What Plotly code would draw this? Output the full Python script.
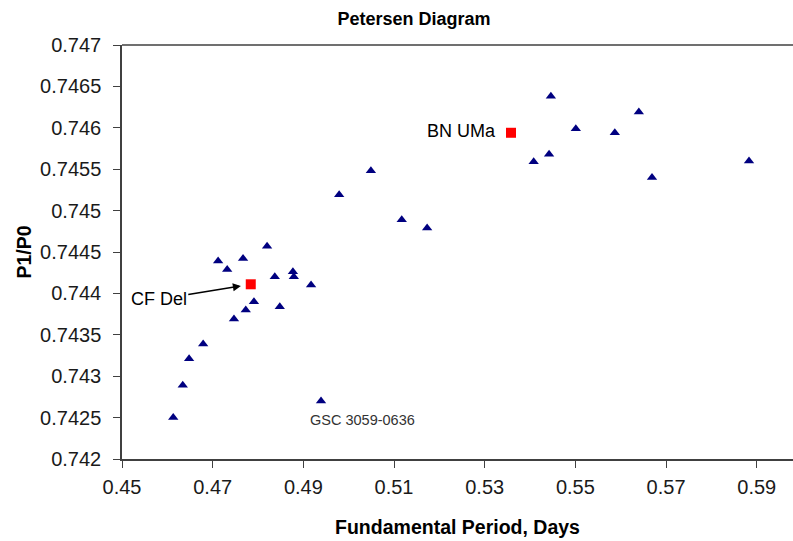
import plotly.graph_objects as go

# Fundamental period (days) and period ratio P1/P0 for the comparison stars
period = [0.4613, 0.4634, 0.4648, 0.4679, 0.4712, 0.4732, 0.4767, 0.4747, 0.4773,
          0.4791, 0.4820, 0.4837, 0.4877, 0.4879, 0.4848, 0.4917, 0.4939, 0.4979,
          0.5049, 0.5117, 0.5173, 0.5408, 0.5442, 0.5446, 0.5501, 0.5587, 0.5640,
          0.5669, 0.5883]
ratio = [0.74250, 0.74289, 0.74321, 0.74339, 0.74439, 0.74429, 0.74442, 0.74369, 0.74380,
         0.74390, 0.74457, 0.74420, 0.74426, 0.74420, 0.74384, 0.74410, 0.74270, 0.74519,
         0.74548, 0.74489, 0.74479, 0.74559, 0.74568, 0.74638, 0.74599, 0.74594, 0.74619,
         0.74540, 0.74560]

# Highlighted stars
star_names = ["CF Del", "BN UMa"]
star_period = [0.4784, 0.5358]
star_ratio = [0.74411, 0.74594]

# Labelled outlier
outlier_name = "GSC 3059-0636"
outlier_period = 0.4939
outlier_ratio = 0.74270

x_tickvals = [0.45, 0.47, 0.49, 0.51, 0.53, 0.55, 0.57, 0.59]
x_ticktext = ["0.45", "0.47", "0.49", "0.51", "0.53", "0.55", "0.57", "0.59"]
y_tickvals = [0.742, 0.7425, 0.743, 0.7435, 0.744, 0.7445, 0.745, 0.7455, 0.746, 0.7465, 0.747]
y_ticktext = ["0.742", "0.7425", "0.743", "0.7435", "0.744", "0.7445", "0.745", "0.7455",
              "0.746", "0.7465", "0.747"]

FONT = "Liberation Sans, Arial, sans-serif"

fig = go.Figure()
fig.add_trace(go.Scatter(
    x=period, y=ratio, mode="markers",
    marker=dict(symbol="triangle-up", size=9, color="#000080"),
    showlegend=False, hoverinfo="x+y"))
fig.add_trace(go.Scatter(
    x=star_period, y=star_ratio, mode="markers", text=star_names,
    marker=dict(symbol="square", size=10, color="#FF0000"),
    showlegend=False, hoverinfo="text+x+y"))

# BN UMa label (to the left of its marker)
fig.add_annotation(x=star_period[1], y=star_ratio[1], text=star_names[1],
                   showarrow=False, xanchor="right", yanchor="middle", xshift=-13, yshift=2,
                   font=dict(family=FONT, size=18, color="#000000"))
# CF Del label with arrow
fig.add_annotation(x=star_period[0], y=star_ratio[0], text=star_names[0],
                   showarrow=True, arrowhead=2, arrowsize=1, arrowwidth=1.6, arrowcolor="#000000",
                   ax=-92, ay=15, standoff=10, xanchor="center", yanchor="middle",
                   font=dict(family=FONT, size=18, color="#000000"))
# GSC label below its marker
fig.add_annotation(x=outlier_period, y=outlier_ratio, text=outlier_name,
                   showarrow=False, xanchor="center", yanchor="top", xshift=41, yshift=-9,
                   font=dict(family=FONT, size=14.5, color="#333333"))

fig.update_layout(
    width=793, height=541,
    margin=dict(l=122, r=0, t=45, b=82),
    paper_bgcolor="white", plot_bgcolor="white",
    font=dict(family=FONT, color="#1a1a1a"),
    title=dict(text="<b>Petersen Diagram</b>", xref="container", yref="container",
               x=414/793, xanchor="center", y=1-18.5/541, yanchor="middle",
               font=dict(family=FONT, size=18, color="#000000")),
    xaxis=dict(range=[0.45, 0.598], tickvals=x_tickvals, ticktext=x_ticktext,
               showgrid=False, zeroline=False, showline=True, linecolor="#404040", linewidth=1.5,
               ticks="outside", ticklen=7, tickcolor="#404040", tickwidth=1.2,
               ticklabelstandoff=2,
               tickfont=dict(family=FONT, size=20, color="#1a1a1a"),
               title=dict(text="<b>Fundamental Period, Days</b>", standoff=24,
                          font=dict(family=FONT, size=19.5, color="#000000"))),
    yaxis=dict(range=[0.742, 0.747], tickvals=y_tickvals, ticktext=y_ticktext,
               showgrid=False, zeroline=False, showline=True, linecolor="#404040", linewidth=1.5,
               ticks="outside", ticklen=7, tickcolor="#404040", tickwidth=1.2,
               ticklabelstandoff=8,
               tickfont=dict(family=FONT, size=20, color="#1a1a1a"),
               title=dict(text="<b>P1/P0</b>", standoff=3,
                          font=dict(family=FONT, size=19.5, color="#000000"))),
    shapes=[dict(type="line", xref="paper", yref="paper", x0=0, x1=1, y0=1, y1=1,
                 line=dict(color="#404040", width=1.5))],
)

fig.write_html("out.html")
